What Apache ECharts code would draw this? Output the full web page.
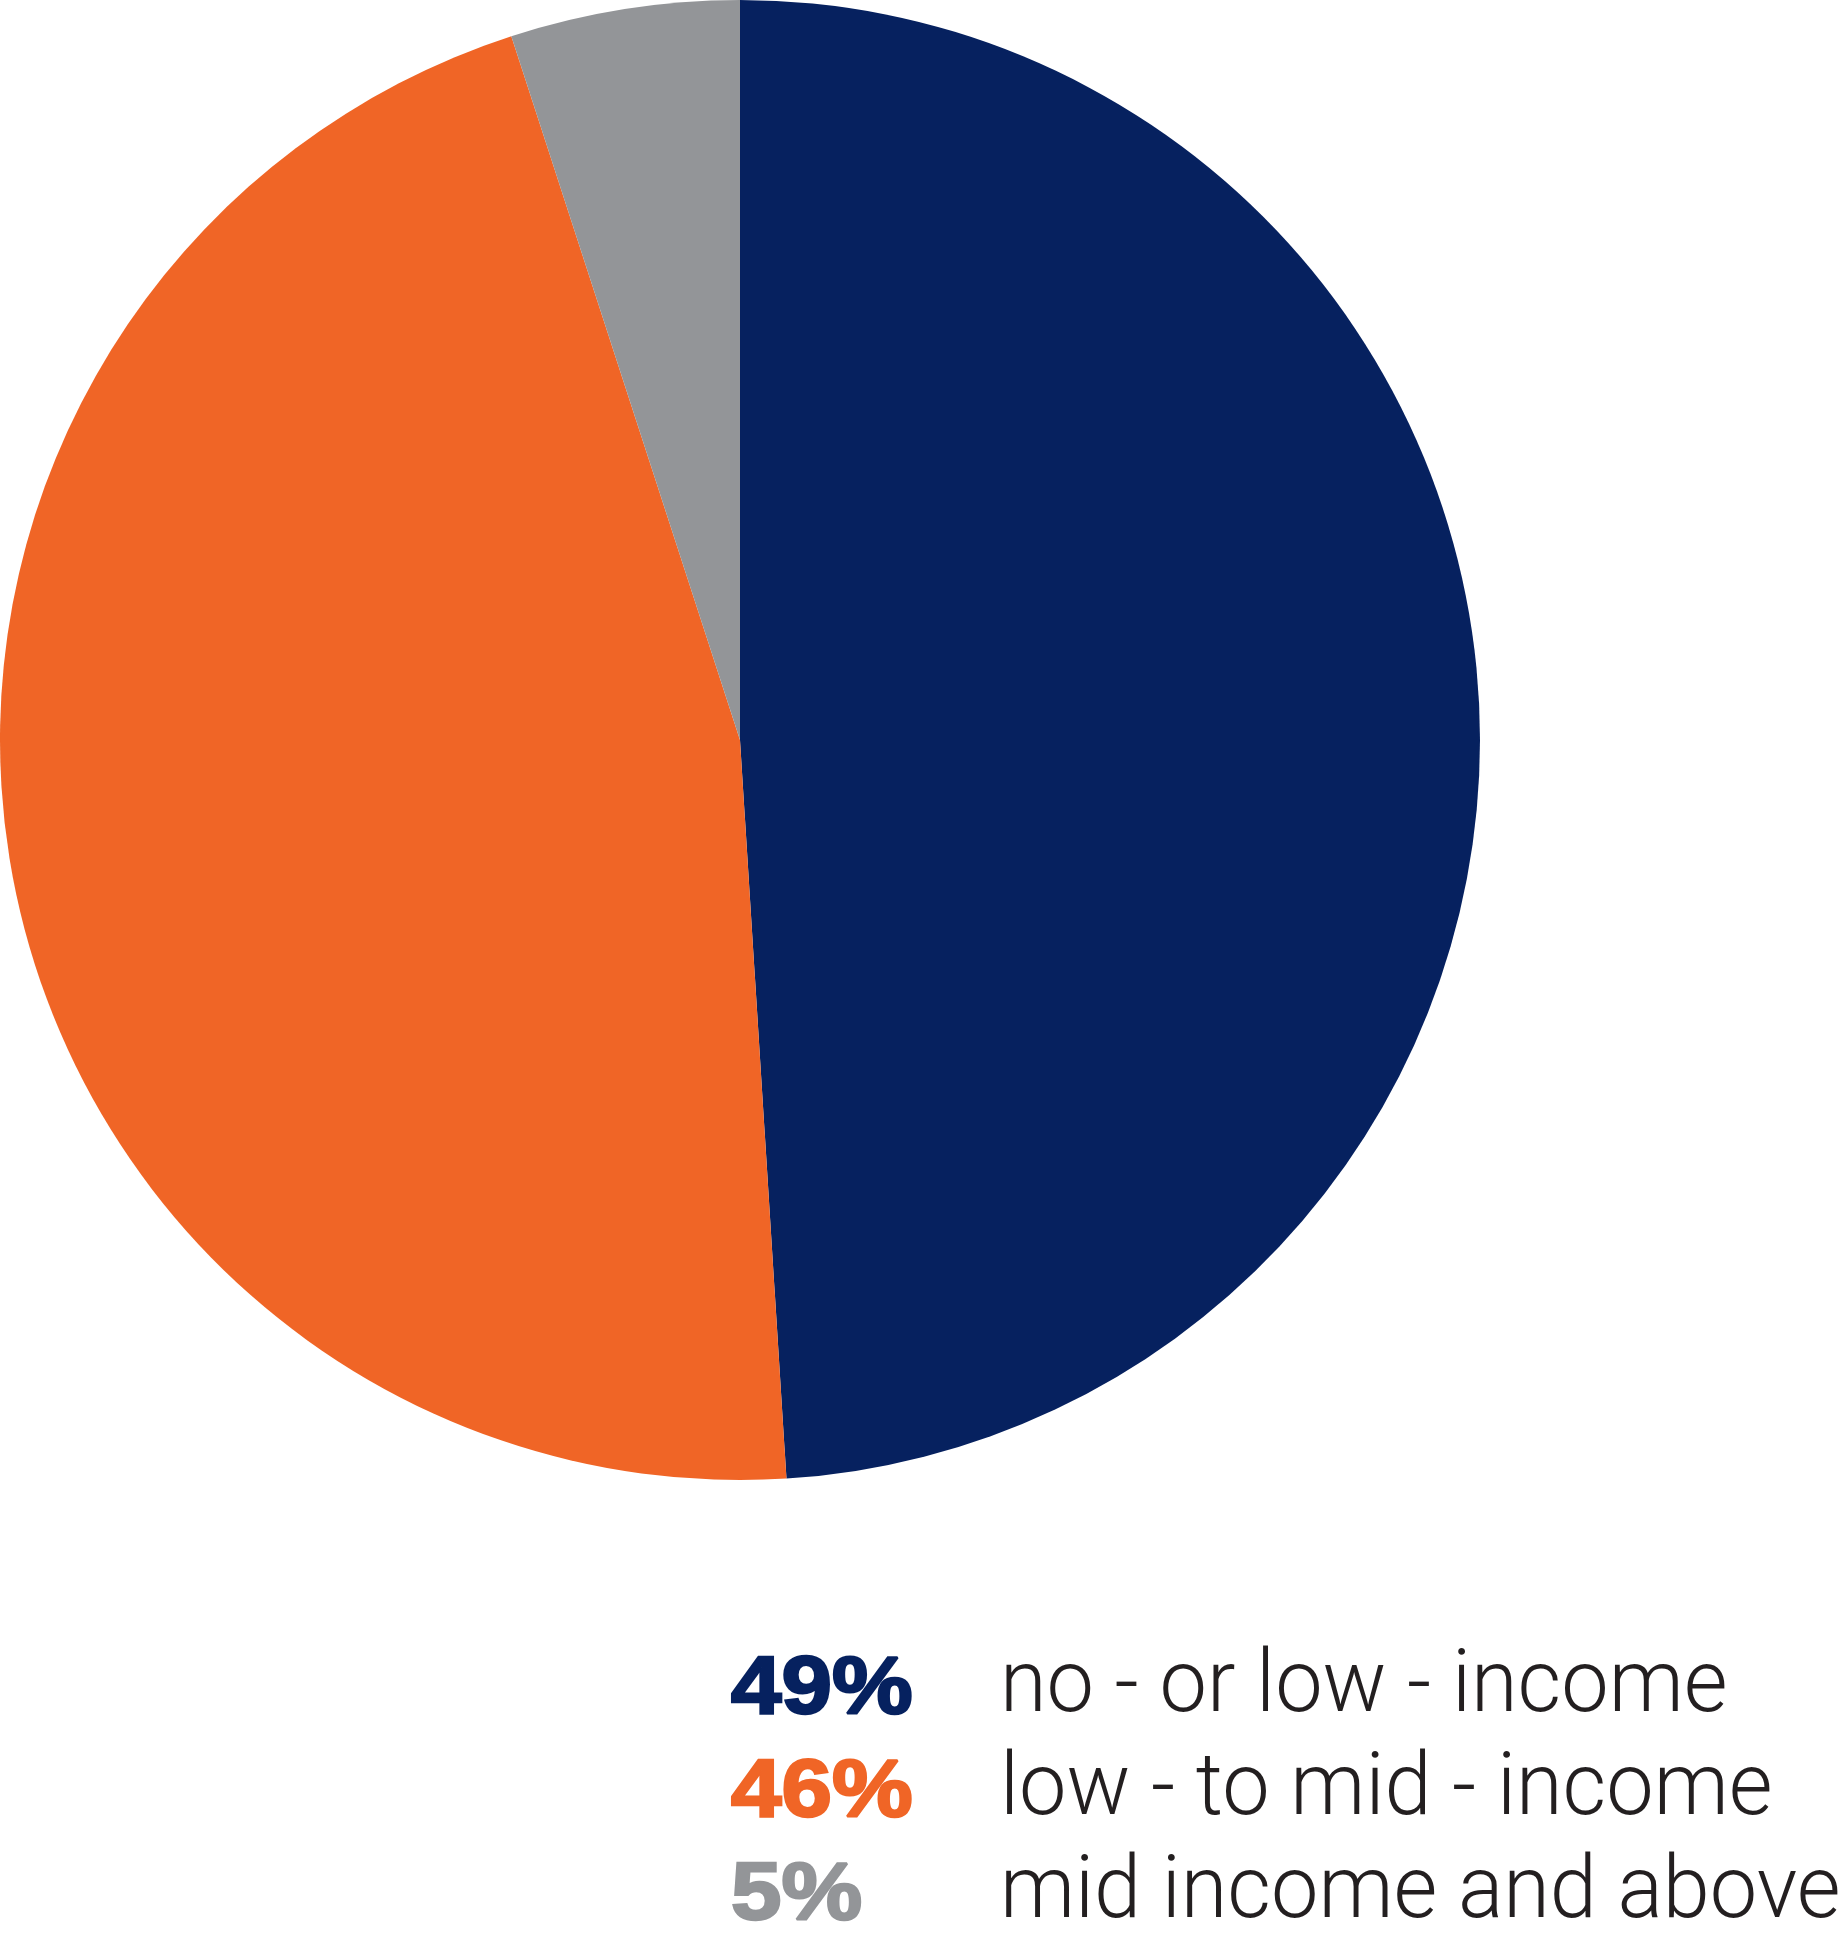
<!DOCTYPE html>
<html>
<head>
<meta charset="utf-8">
<script src="https://cdn.jsdelivr.net/npm/echarts@6/dist/echarts.min.js"></script>
<style>
html,body{margin:0;padding:0;background:#fff;}
#chart{width:1841px;height:1942px;}
</style>
</head>
<body>
<div id="chart"></div>
<script>
const categories = ['no - or low - income', 'low - to mid - income', 'mid income and above'];
const values = [49, 46, 5];
const percentLabels = ['49%', '46%', '5%'];
const colors = ['#06215F', '#F06526', '#939598'];

const chart = echarts.init(document.getElementById('chart'));

const graphics = [];
const baseY = 1689;
const rowGap = 103;
categories.forEach((name, i) => {
  graphics.push({
    type: 'text',
    x: 731, y: baseY + 2 + i * rowGap,
    scaleX: 1.12,
    style: {
      text: percentLabels[i],
      fill: colors[i],
      stroke: colors[i],
      lineWidth: 2.5,
      font: 'bold 81px "Liberation Sans", Arial, sans-serif',
      textAlign: 'left',
      textVerticalAlign: 'middle'
    }
  });
  graphics.push({
    type: 'text',
    x: 1000, y: baseY + i * rowGap,
    scaleX: 0.962,
    style: {
      text: name,
      fill: '#231F20',
      font: '300 88px Roboto, "Liberation Sans", sans-serif',
      textAlign: 'left',
      textVerticalAlign: 'middle'
    }
  });
});

chart.setOption({
  animation: false,
  series: [{
    type: 'pie',
    center: [740, 740],
    radius: [0, 740],
    startAngle: 90,
    clockwise: true,
    label: { show: false },
    labelLine: { show: false },
    emphasis: { disabled: true },
    silent: true,
    itemStyle: { borderWidth: 0 },
    data: categories.map((c, i) => ({ name: c, value: values[i], itemStyle: { color: colors[i] } }))
  }],
  graphic: graphics
});
</script>
</body>
</html>
